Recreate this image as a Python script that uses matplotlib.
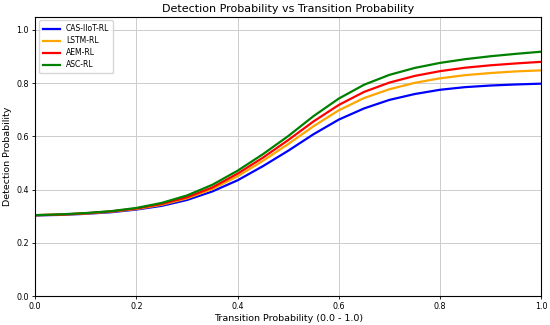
import numpy as np
import matplotlib
matplotlib.use("Agg")
import matplotlib.pyplot as plt

# transition probability sampled every 0.05
transition = [0.0, 0.05, 0.10, 0.15, 0.20, 0.25, 0.30, 0.35, 0.40, 0.45, 0.50,
              0.55, 0.60, 0.65, 0.70, 0.75, 0.80, 0.85, 0.90, 0.95, 1.0]

cas_iiot_rl = [0.303, 0.305, 0.309, 0.315, 0.325, 0.339, 0.361, 0.393, 0.435, 0.488, 0.546,
               0.608, 0.663, 0.705, 0.737, 0.759, 0.775, 0.785, 0.791, 0.795, 0.798]
lstm_rl = [0.304, 0.306, 0.310, 0.317, 0.327, 0.343, 0.367, 0.402, 0.450, 0.508, 0.571,
           0.638, 0.698, 0.744, 0.777, 0.801, 0.818, 0.830, 0.838, 0.844, 0.848]
aem_rl = [0.304, 0.306, 0.311, 0.318, 0.329, 0.346, 0.371, 0.408, 0.460, 0.520, 0.586,
          0.656, 0.718, 0.767, 0.802, 0.827, 0.845, 0.858, 0.867, 0.874, 0.880]
asc_rl = [0.304, 0.307, 0.312, 0.319, 0.331, 0.350, 0.378, 0.418, 0.471, 0.533, 0.601,
          0.676, 0.742, 0.794, 0.831, 0.857, 0.876, 0.890, 0.901, 0.910, 0.918]

labels = ["CAS-IIoT-RL", "LSTM-RL", "AEM-RL", "ASC-RL"]
colors = ["blue", "orange", "red", "green"]

fig = plt.figure(figsize=(5.5, 3.25), dpi=100)
ax = fig.add_axes([0.064, 0.089, 0.92, 0.860])

for series, label, color in zip([cas_iiot_rl, lstm_rl, aem_rl, asc_rl], labels, colors):
    ax.plot(transition, series, color=color, linewidth=1.6, label=label)

ax.set_xlim(0, 1.0)
ax.set_ylim(0, 1.05)
ax.set_xticks(np.arange(0, 1.01, 0.2))
ax.set_yticks(np.arange(0, 1.01, 0.2))
ax.tick_params(labelsize=5.8, length=2.5, width=0.6, pad=2)
ax.grid(True, color="#cccccc", linewidth=0.7)
for s in ax.spines.values():
    s.set_linewidth(0.8)

ax.set_title("Detection Probability vs Transition Probability", fontsize=8, pad=3)
ax.set_xlabel("Transition Probability (0.0 - 1.0)", fontsize=6.8, labelpad=2)
ax.set_ylabel("Detection Probability", fontsize=6.8, labelpad=3)
ax.legend(loc="upper left", fontsize=5.5, handlelength=2.2, framealpha=0.8,
          borderpad=0.5, labelspacing=0.4)

fig.savefig("out.png", dpi=100)
